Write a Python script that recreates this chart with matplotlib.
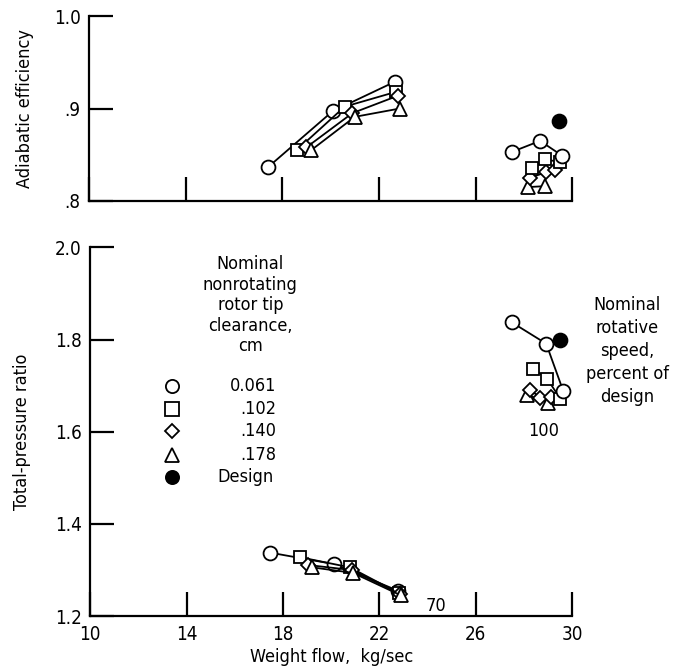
import matplotlib
matplotlib.use("Agg")
import matplotlib.pyplot as plt

plt.rcParams["font.family"] = ["Liberation Sans Narrow", "DejaVu Sans"]
plt.rcParams["font.stretch"] = "condensed"

# ---- data ----
# adiabatic efficiency, 70 percent speed
eff70_circle_x = [17.43, 20.08, 22.66]
eff70_circle_y = [0.837, 0.897, 0.929]
eff70_square_x = [18.6, 20.58, 22.7]
eff70_square_y = [0.855, 0.902, 0.918]
eff70_diamond_x = [19.0, 20.9, 22.8]
eff70_diamond_y = [0.858, 0.895, 0.914]
eff70_triangle_x = [19.2, 21.0, 22.86]
eff70_triangle_y = [0.855, 0.891, 0.900]

# adiabatic efficiency, 100 percent speed
eff100_circle_x = [27.5, 28.67, 29.58]
eff100_circle_y = [0.853, 0.865, 0.849]
eff100_square_x = [28.34, 28.88, 29.5]
eff100_square_y = [0.836, 0.845, 0.842]
eff100_diamond_x = [28.26, 28.9, 29.3]
eff100_diamond_y = [0.825, 0.831, 0.834]
eff100_triangle_x = [28.17, 28.88]
eff100_triangle_y = [0.815, 0.816]
eff_design_x = [29.46]
eff_design_y = [0.886]

# total-pressure ratio, 70 percent speed
pr70_circle_x = [17.45, 20.12, 22.78]
pr70_circle_y = [1.338, 1.313, 1.255]
pr70_square_x = [18.7, 20.77, 22.8]
pr70_square_y = [1.328, 1.306, 1.250]
pr70_diamond_x = [19.05, 20.87, 22.85]
pr70_diamond_y = [1.311, 1.300, 1.248]
pr70_triangle_x = [19.2, 20.9, 22.9]
pr70_triangle_y = [1.306, 1.294, 1.245]

# total-pressure ratio, 100 percent speed
pr100_circle_x = [27.5, 28.92, 29.63]
pr100_circle_y = [1.837, 1.791, 1.688]
pr100_square_x = [28.38, 28.96, 29.5]
pr100_square_y = [1.737, 1.715, 1.672]
pr100_diamond_x = [28.26, 28.67, 29.13]
pr100_diamond_y = [1.691, 1.674, 1.676]
pr100_triangle_x = [28.13, 29.0]
pr100_triangle_y = [1.680, 1.663]
pr_design_x = [29.5]
pr_design_y = [1.800]

x_ticks = [10, 14, 18, 22, 26, 30]
eff_ticks = [0.8, 0.9, 1.0]
eff_ticklabels = [".8", ".9", "1.0"]
pr_ticks = [1.2, 1.4, 1.6, 1.8, 2.0]
pr_ticklabels = ["1.2", "1.4", "1.6", "1.8", "2.0"]

legend_markers = ["o", "s", "D", "^", "o"]
legend_labels = ["0.061", ".102", ".140", ".178", "Design"]

FS = 13
LW = 1.3
MS = 10


def style_axes(ax):
    for side in ("top", "right"):
        ax.spines[side].set_visible(False)
    for side in ("left", "bottom"):
        ax.spines[side].set_linewidth(1.6)
    ax.tick_params(direction="in", length=17, width=1.6, labelsize=13.5, pad=6)
    ax.set_xlim(10, 30)
    ax.set_xticks(x_ticks)


def series(ax, x, y, marker, line=True, filled=False, ms=MS):
    ax.plot(x, y, "-" if line else "none", color="black", lw=LW,
            marker=marker, ms=ms, mfc="black" if filled else "white",
            mec="black", mew=1.3, zorder=3)


fig = plt.figure(figsize=(6.74, 6.72), dpi=100)
ax1 = fig.add_axes([0.132, 0.701, 0.717, 0.275])
ax2 = fig.add_axes([0.134, 0.083, 0.715, 0.549])

# top panel
style_axes(ax1)
ax1.set_ylim(0.8, 1.0)
ax1.set_yticks(eff_ticks)
ax1.set_yticklabels(eff_ticklabels)
ax1.set_xticklabels([])
series(ax1, eff70_circle_x, eff70_circle_y, "o")
series(ax1, eff70_square_x, eff70_square_y, "s", ms=9)
series(ax1, eff70_diamond_x, eff70_diamond_y, "D", ms=7.5)
series(ax1, eff70_triangle_x, eff70_triangle_y, "^")
series(ax1, eff100_triangle_x, eff100_triangle_y, "^", line=False)
series(ax1, eff100_diamond_x, eff100_diamond_y, "D", line=False, ms=7.5)
series(ax1, eff100_square_x, eff100_square_y, "s", line=False, ms=9)
series(ax1, eff100_circle_x, eff100_circle_y, "o")
series(ax1, eff_design_x, eff_design_y, "o", line=False, filled=True)
ax1.set_ylabel("Adiabatic efficiency", fontsize=FS)
ax1.yaxis.set_label_coords(-0.114, 0.5)

# bottom panel
style_axes(ax2)
ax2.set_ylim(1.2, 2.0)
ax2.set_yticks(pr_ticks)
ax2.set_yticklabels(pr_ticklabels)
series(ax2, pr70_circle_x, pr70_circle_y, "o")
series(ax2, pr70_square_x, pr70_square_y, "s", ms=9)
series(ax2, pr70_diamond_x, pr70_diamond_y, "D", ms=7.5)
series(ax2, pr70_triangle_x, pr70_triangle_y, "^")
series(ax2, pr100_triangle_x, pr100_triangle_y, "^", line=False)
series(ax2, pr100_diamond_x, pr100_diamond_y, "D", line=False, ms=7.5)
series(ax2, pr100_square_x, pr100_square_y, "s", line=False, ms=9)
series(ax2, pr100_circle_x, pr100_circle_y, "o")
series(ax2, pr_design_x, pr_design_y, "o", line=False, filled=True)
ax2.set_ylabel("Total-pressure ratio", fontsize=FS)
ax2.yaxis.set_label_coords(-0.124, 0.5)
ax2.set_xlabel("Weight flow,  kg/sec", fontsize=FS, labelpad=3)

ax2.text(28.8, 1.602, "100", fontsize=FS, ha="center", va="center")
ax2.text(23.9, 1.222, "70", fontsize=FS, ha="left", va="center")
ax2.text(1.114, 0.868,
         "Nominal\nrotative\nspeed,\npercent of\ndesign",
         transform=ax2.transAxes, fontsize=FS, ha="center", va="top",
         linespacing=1.36)

# legend built by hand
ax2.text(0.332, 0.978,
         "Nominal\nnonrotating\nrotor tip\nclearance,\ncm",
         transform=ax2.transAxes, fontsize=FS, ha="center", va="top",
         linespacing=1.17)
legend_rows = [0.623, 0.561, 0.501, 0.436, 0.377]
for i, (m, lab) in enumerate(zip(legend_markers, legend_labels)):
    filled = lab == "Design"
    ax2.plot([0.170], [legend_rows[i]], transform=ax2.transAxes,
             marker=m, ms=7.5 if m == "D" else 9.5, ls="none",
             mfc="black" if filled else "white", mec="black", mew=1.3,
             clip_on=False)
    if filled:
        ax2.text(0.263, legend_rows[i], lab, transform=ax2.transAxes,
                 fontsize=FS, ha="left", va="center")
    else:
        ax2.text(0.386, legend_rows[i], lab, transform=ax2.transAxes,
                 fontsize=FS, ha="right", va="center")

fig.savefig("out.png", dpi=100)
